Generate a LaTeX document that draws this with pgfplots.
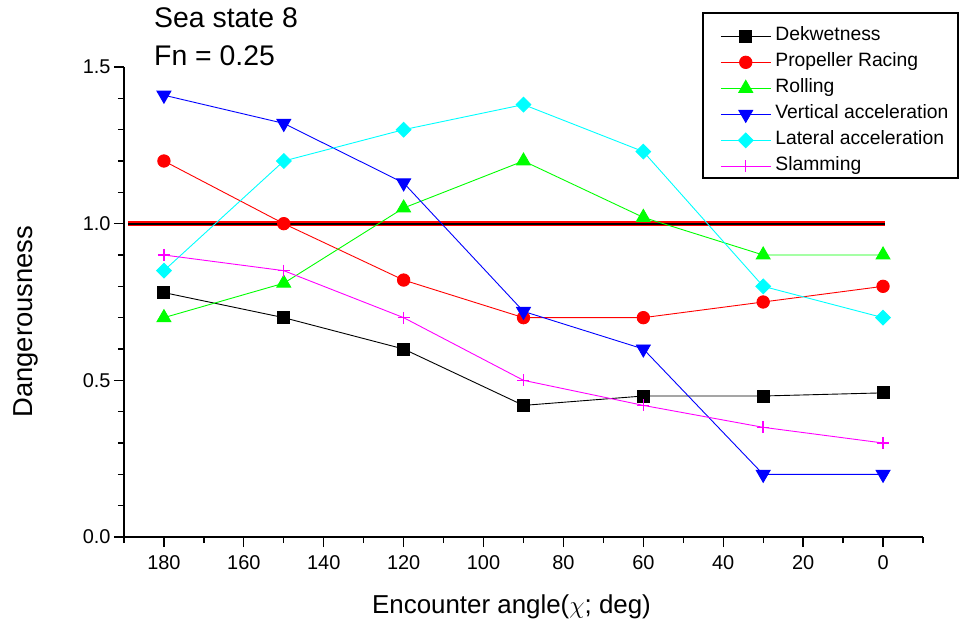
\documentclass[border=0pt]{standalone}
\usepackage{fontspec}
\setmainfont{Liberation Sans}
\usepackage{pgfplots}
\pgfplotsset{compat=1.18}
\definecolor{cgreen}{RGB}{0,255,0}
\definecolor{ccyan}{RGB}{0,255,255}
\definecolor{cmag}{RGB}{255,0,255}
\definecolor{cred}{RGB}{255,0,0}
\definecolor{cblue}{RGB}{0,0,255}
\begin{document}
\begin{tikzpicture}
\path[use as bounding box] (-124bp,-86bp) rectangle (835bp,537bp);
\draw[line width=1.3bp] (579bp,359bp) rectangle (834bp,524bp);
\begin{axis}[
  scale only axis, width=799bp, height=470bp,
  at={(0,0)}, anchor=south west,
  xmin=-10, xmax=190, ymin=0, ymax=1.5,
  x dir=reverse,
  axis x line*=bottom, axis y line*=left,
  axis line style={line width=1.6bp, -},
  xtick={0,20,...,180}, ytick={0,0.5,1,1.5},
  minor xtick={-10,10,30,50,70,90,110,130,150,170,190},
  minor ytick={0.1,0.2,0.3,0.4,0.6,0.7,0.8,0.9,1.1,1.2,1.3,1.4},
  tick align=outside,
  major tick length=10bp, minor tick length=6bp,
  tick style={line width=1.3bp, black},
  /pgf/number format/assume math mode=true,
  ticklabel style={font=\fontsize{20}{20}\selectfont},
  xticklabel style={yshift=-5bp},
  yticklabel style={/pgf/number format/fixed, /pgf/number format/fixed zerofill, /pgf/number format/precision=1},
  xlabel={Encounter angle($\chi$; deg)},
  ylabel={Dangerousness},
  xlabel style={font=\fontsize{26}{26}\selectfont, at={(axis description cs:0.485,-0.1617)}, anchor=base},
  ylabel style={font=\fontsize{27.5}{27.5}\selectfont, at={(axis description cs:-0.115,0.458)}, anchor=base},
  clip=false,
  legend style={
    at={(0.7459,1.0880)}, anchor=north west,
    draw=none, fill=none,
    font=\fontsize{19.4}{20}\selectfont,
    inner xsep=0bp, inner ysep=0bp,
    row sep=5bp, column sep=2bp,
    nodes={inner sep=2bp, text height=13bp, text depth=4bp},
    cells={anchor=west},
  },
  legend image code/.code={%
    \draw[line width=1.2bp] (0bp,0bp) -- (50bp,0bp);
    \draw[only marks] plot coordinates {(25bp,0bp)};},
]
\addplot[cred, line width=4.6bp, forget plot] coordinates {(189,1) (-0.5,1)};
\addplot[black, line width=2bp, forget plot] coordinates {(189,1) (-0.5,1)};

\addplot[black, line width=0.9bp, mark=square*, mark size=6bp, mark options={fill=black}] coordinates {
(180,0.78) (150,0.70) (120,0.60) (90,0.42) (60,0.45) (30,0.45) (0,0.46)};
\addlegendentry{Dekwetness}
\addplot[cred, line width=0.9bp, mark=*, mark size=6.2bp, mark options={fill=cred}] coordinates {
(180,1.20) (150,1.00) (120,0.82) (90,0.70) (60,0.70) (30,0.75) (0,0.80)};
\addlegendentry{Propeller Racing}
\addplot[cgreen, line width=0.9bp, mark=triangle*, mark size=8bp, mark options={fill=cgreen}] coordinates {
(180,0.70) (150,0.81) (120,1.05) (90,1.20) (60,1.02) (30,0.90) (0,0.90)};
\addlegendentry{Rolling}
\addplot[cblue, line width=0.9bp, mark=triangle*, mark size=8bp, mark options={fill=cblue, rotate=180}] coordinates {
(180,1.41) (150,1.32) (120,1.13) (90,0.72) (60,0.60) (30,0.20) (0,0.20)};
\addlegendentry{Vertical acceleration}
\addplot[ccyan, line width=0.9bp, mark=square*, mark size=5.2bp, mark options={fill=ccyan, rotate=45}] coordinates {
(180,0.85) (150,1.20) (120,1.30) (90,1.38) (60,1.23) (30,0.80) (0,0.70)};
\addlegendentry{Lateral acceleration}
\addplot[cmag, line width=0.9bp, mark=+, mark size=6bp, mark options={line width=1.4bp}] coordinates {
(180,0.90) (150,0.85) (120,0.70) (90,0.50) (60,0.42) (30,0.35) (0,0.30)};
\addlegendentry{Slamming}
\end{axis}
\node[anchor=base west, inner sep=0pt, font=\fontsize{28.5}{28.5}\selectfont] at (30bp,509.5bp) {Sea state 8};
\node[anchor=base west, inner sep=0pt, font=\fontsize{28.5}{28.5}\selectfont] at (30bp,471bp) {Fn = 0.25};
\end{tikzpicture}
\end{document}
